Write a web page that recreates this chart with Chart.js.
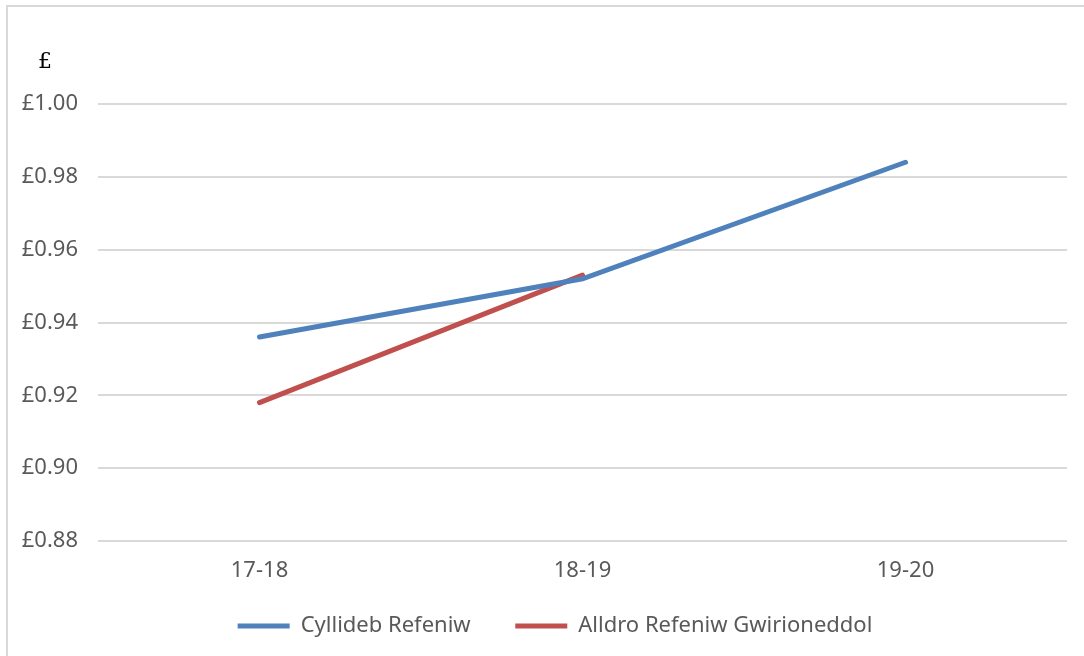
<!DOCTYPE html>
<html>
<head>
<meta charset="utf-8">
<script src="https://cdn.jsdelivr.net/npm/chart.js@4"></script>
<style>
  body { margin: 0; background: #fff; }
  #wrap { position: relative; width: 1084px; height: 656px; }
  #frame { position: absolute; left: 6px; top: 5px; right: -2px; bottom: -2px; border: 1px solid #d9d9d9; border-width: 2px 0 0 2px; }
  canvas { position: absolute; left: 0; top: 0; }
</style>
</head>
<body>
<div id="wrap">
  <div id="frame"></div>
  <canvas id="line-chart" width="1084" height="656"></canvas>
</div>
<script>
const years = ["17-18", "18-19", "19-20"];
const budget = [0.936, 0.952, 0.984];
const actual = [0.918, 0.953, null];
const seriesNames = ["Cyllideb Refeniw", "Alldro Refeniw Gwirioneddol"];

const tickFont = { family: "'Noto Sans', sans-serif", size: 22 };
const grey = "#595959";

// the "£" label above the axis
const unitLabel = {
  id: "unitLabel",
  afterDraw(chart) {
    const ctx = chart.ctx;
    ctx.save();
    ctx.fillStyle = "#000";
    ctx.font = "22px 'DejaVu Serif', serif";
    ctx.textAlign = "center";
    ctx.textBaseline = "middle";
    ctx.fillText("£", 45, 62);
    ctx.restore();
  }
};

// legend sits a bit right of the canvas centre in the original
const legendShift = {
  id: "legendShift",
  afterLayout(chart) {
    chart.legend.left += 43;
  }
};

new Chart(document.getElementById("line-chart"), {
  type: "line",
  data: {
    labels: years,
    datasets: [
      {
        label: seriesNames[0],
        data: budget,
        borderColor: "#4F81BD",
        backgroundColor: "#4F81BD",
        borderWidth: 5,
        borderCapStyle: "round",
        pointRadius: 0,
        tension: 0
      },
      {
        label: seriesNames[1],
        data: actual,
        borderColor: "#C0504D",
        backgroundColor: "#C0504D",
        borderWidth: 5,
        borderCapStyle: "round",
        pointRadius: 0,
        tension: 0
      }
    ]
  },
  options: {
    responsive: false,
    animation: false,
    layout: { padding: { top: 104, right: 17, left: 0, bottom: 9 } },
    plugins: {
      legend: {
        position: "bottom",
        labels: {
          usePointStyle: true,
          pointStyle: "line",
          pointStyleWidth: 52,
          boxHeight: 10,
          padding: 30,
          color: grey,
          font: tickFont,
          generateLabels(chart) {
            const items = Chart.defaults.plugins.legend.labels.generateLabels(chart);
            // extra room after the first entry
            items[0].text += "\u2002\u2009";
            return items;
          }
        }
      },
      title: { display: false },
      tooltip: { enabled: false }
    },
    scales: {
      x: {
        offset: true,
        grid: { display: false, drawTicks: false },
        border: { display: false },
        afterFit(scale) { scale.height = 44; },
        ticks: { color: grey, font: tickFont, padding: 17 }
      },
      y: {
        min: 0.88,
        max: 1.0,
        grid: { color: "#d9d9d9", lineWidth: 2, drawTicks: false },
        border: { display: false },
        afterFit(scale) { scale.width = 98; },
        ticks: {
          stepSize: 0.02,
          color: grey,
          font: tickFont,
          padding: 20,
          callback: v => "£" + v.toFixed(2)
        }
      }
    }
  },
  plugins: [unitLabel, legendShift]
});
</script>
</body>
</html>
